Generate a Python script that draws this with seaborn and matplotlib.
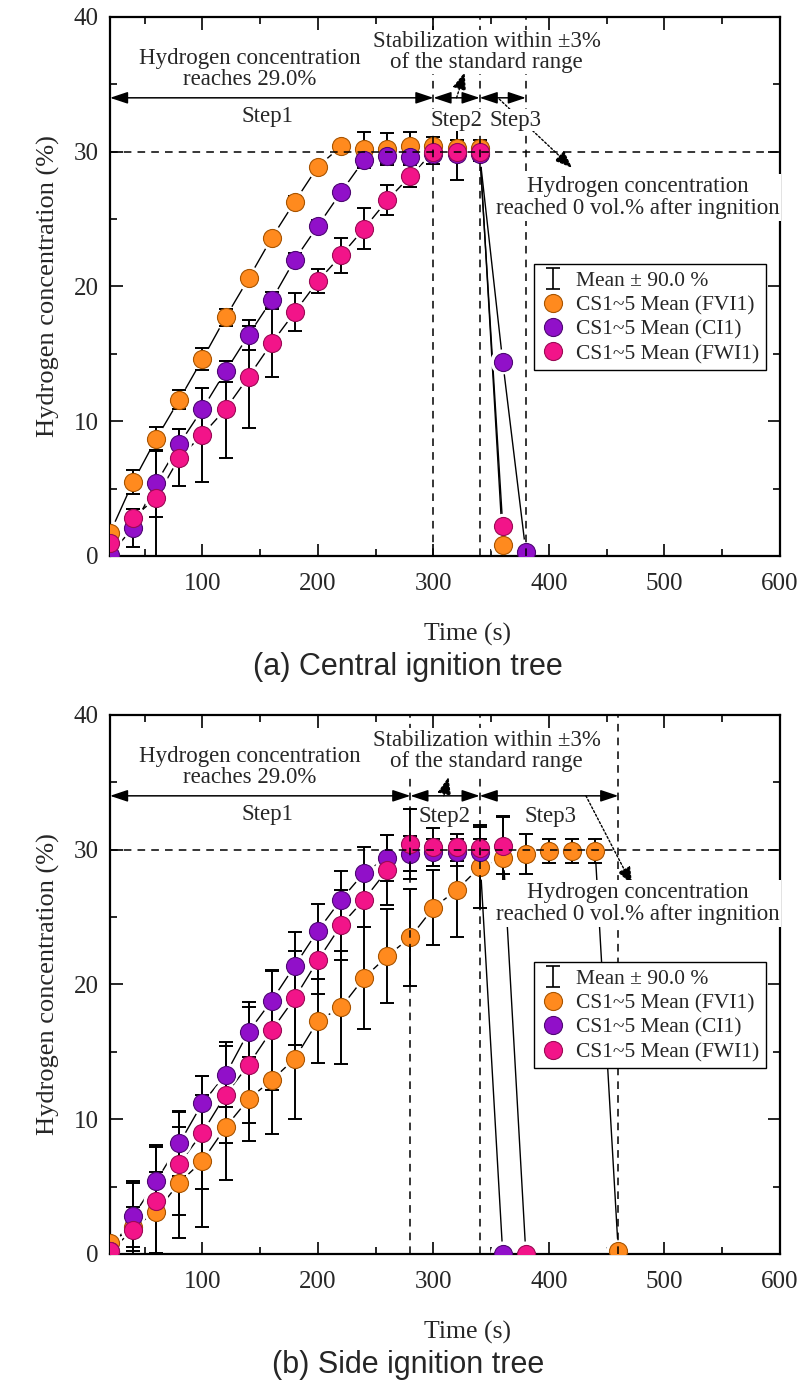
import numpy as np
import pandas as pd
import matplotlib.pyplot as plt
import seaborn as sns
from matplotlib.ticker import MultipleLocator
from matplotlib.lines import Line2D

# ---- data ----
series_names = ['CS1~5 Mean (FVI1)', 'CS1~5 Mean (CI1)', 'CS1~5 Mean (FWI1)']
face_colors = ['#FF8A1E', '#9110C9', '#F21489']
edge_colors = ['#A85400', '#4E0873', '#9A0A55']

# (a) Central ignition tree
t_a_fvi1 = [20, 40, 60, 80, 100, 120, 140, 160, 180, 200, 220, 240, 260, 280, 300, 320, 340, 360]
h_a_fvi1 = [1.7, 5.5, 8.7, 11.6, 14.6, 17.7, 20.6, 23.6, 26.3, 28.9, 30.4, 30.2, 30.2, 30.4, 30.4, 30.3, 30.3, 0.8]
e_a_fvi1 = [0.3, 0.9, 0.9, 0.7, 0.8, 0.6, 0.3, 0.3, 0.4, 0.3, 0.3, 1.3, 1.2, 1.1, 0.7, 0.6, 0.6, 0.0]

t_a_ci1 = [20, 40, 60, 80, 100, 120, 140, 160, 180, 200, 220, 240, 260, 280, 300, 320, 340, 360, 380]
h_a_ci1 = [0.1, 2.1, 5.4, 8.3, 10.9, 13.7, 16.4, 19.0, 22.0, 24.5, 27.0, 29.4, 29.7, 29.6, 29.8, 29.8, 29.8, 14.4, 0.3]
e_a_ci1 = [0.3, 1.4, 2.5, 1.1, 1.6, 0.8, 1.1, 0.6, 0.5, 0.4, 0.4, 0.6, 0.5, 0.5, 0.7, 1.9, 0.5, 0.0, 0.0]

t_a_fwi1 = [20, 40, 60, 80, 100, 120, 140, 160, 180, 200, 220, 240, 260, 280, 300, 320, 340, 360]
h_a_fwi1 = [1.0, 2.85, 4.3, 7.3, 9.0, 10.9, 13.3, 15.8, 18.1, 20.4, 22.3, 24.3, 26.4, 28.2, 30.0, 30.0, 30.0, 2.2]
e_a_fwi1 = [0.3, 0.6, 4.4, 2.1, 3.5, 3.6, 3.8, 2.5, 1.4, 0.9, 1.3, 1.5, 1.1, 0.8, 0.6, 0.6, 0.6, 0.0]

# (b) Side ignition tree
t_b_fvi1 = [20, 40, 60, 80, 100, 120, 140, 160, 180, 200, 220, 240, 260, 280, 300, 320, 340, 360, 380, 400,
            420, 440, 460]
h_b_fvi1 = [0.8, 2.0, 3.1, 5.3, 6.9, 9.4, 11.5, 12.9, 14.5, 17.3, 18.3, 20.5, 22.1, 23.5, 25.7, 27.0, 28.7,
            29.4, 29.7, 29.9, 29.9, 29.9, 0.2]
e_b_fvi1 = [0.3, 1.5, 3.0, 4.1, 4.9, 3.9, 3.1, 4.0, 4.5, 3.1, 4.2, 3.8, 3.5, 3.6, 2.8, 3.5, 3.0, 3.1, 1.5,
            0.9, 0.9, 0.9, 0.0]

t_b_ci1 = [20, 40, 60, 80, 100, 120, 140, 160, 180, 200, 220, 240, 260, 280, 300, 320, 340, 360]
h_b_ci1 = [0.2, 2.8, 5.4, 8.2, 11.2, 13.3, 16.5, 18.8, 21.4, 24.0, 26.3, 28.3, 29.4, 29.7, 29.8, 29.8, 29.8, 0.0]
e_b_ci1 = [0.3, 2.6, 2.7, 2.4, 2.0, 2.4, 2.2, 2.3, 2.5, 2.0, 2.1, 1.9, 1.7, 1.3, 1.0, 1.0, 1.0, 0.0]

t_b_fwi1 = [20, 40, 60, 80, 100, 120, 140, 160, 180, 200, 220, 240, 260, 280, 300, 320, 340, 360, 380]
h_b_fwi1 = [0.2, 1.8, 3.95, 6.7, 9.0, 11.8, 14.05, 16.6, 19.0, 21.8, 24.4, 26.3, 28.5, 30.4, 30.2, 30.2,
            30.1, 30.3, 0.0]
e_b_fwi1 = [0.3, 3.5, 4.0, 3.8, 4.2, 3.6, 4.3, 4.4, 3.5, 2.5, 2.6, 2.0, 2.6, 2.6, 1.4, 1.0, 1.7, 2.1, 0.0]

# step boundaries (s)
steps_a = [20, 300, 340, 380]
steps_b = [20, 280, 340, 460]

sns.set_theme(style='ticks')
plt.rcParams['font.family'] = ['Liberation Serif', 'DejaVu Serif']
plt.rcParams['mathtext.fontset'] = 'stix'


def make_frame(parts):
    rows = []
    for name, t, h, e in parts:
        for ti, hi, ei in zip(t, h, e):
            rows.append({'series': name, 't': ti, 'h': hi, 'err': ei})
    return pd.DataFrame(rows)


df_a = make_frame([(series_names[0], t_a_fvi1, h_a_fvi1, e_a_fvi1),
                   (series_names[1], t_a_ci1, h_a_ci1, e_a_ci1),
                   (series_names[2], t_a_fwi1, h_a_fwi1, e_a_fwi1)])
df_b = make_frame([(series_names[0], t_b_fvi1, h_b_fvi1, e_b_fvi1),
                   (series_names[1], t_b_ci1, h_b_ci1, e_b_ci1),
                   (series_names[2], t_b_fwi1, h_b_fwi1, e_b_fwi1)])


def draw_panel(ax, df, steps, step_lbl, dot1, dot2, txt_stab_y, txt_ign):
    ms = 13
    # connecting lines
    sns.lineplot(data=df, x='t', y='h', units='series', estimator=None, sort=False,
                 color='black', lw=1.0, ax=ax, zorder=2, legend=False)
    # white halo -> gap between line and symbol
    sns.scatterplot(data=df, x='t', y='h', s=(ms + 5) ** 2, color='white',
                    edgecolor='none', linewidth=0, ax=ax, zorder=2.5, legend=False)
    # error bars
    for name in series_names:
        d = df[df['series'] == name]
        ax.errorbar(d['t'], d['h'], yerr=d['err'], fmt='none', ecolor='black',
                    elinewidth=1.4, capsize=5, capthick=1.4, zorder=3)
    # markers
    for name, fc, ec in zip(series_names, face_colors, edge_colors):
        d = df[df['series'] == name]
        sns.scatterplot(x=d['t'], y=d['h'], s=ms ** 2, color=fc, edgecolor=ec,
                        linewidth=0.8, ax=ax, zorder=4, legend=False)

    # reference lines
    dash = (0, (5, 4))
    ax.axhline(30, color='black', lw=1.1, ls=dash, zorder=5)
    for x in steps[1:]:
        ax.axvline(x, color='black', lw=1.1, ls=dash, zorder=5)

    # step arrows
    for x0, x1 in zip(steps[:-1], steps[1:]):
        ax.annotate('', xy=(x1, 34), xytext=(x0, 34),
                    arrowprops=dict(arrowstyle='<|-|>,head_length=0.9,head_width=0.3',
                                    color='black', lw=1.1, shrinkA=0, shrinkB=0),
                    zorder=6)
    for (x, y), lbl in zip(step_lbl, ['Step1', 'Step2', 'Step3']):
        ax.text(x, y, lbl, ha='center', va='center', fontsize=16.5, zorder=7,
                bbox=dict(facecolor='white', edgecolor='none', pad=0.5))

    # dotted pointers
    for (x0, y0), (x1, y1) in [dot1, dot2]:
        ax.annotate('', xy=(x1, y1), xytext=(x0, y0),
                    arrowprops=dict(arrowstyle='-|>,head_length=0.9,head_width=0.35',
                                    color='black', lw=1.0, ls=(0, (1.5, 1.5)),
                                    shrinkA=0, shrinkB=0), zorder=6)

    box = dict(facecolor='white', edgecolor='none', pad=1)
    ax.text(141, 36.15, 'Hydrogen concentration\nreaches 29.0%', ha='center', va='center',
            fontsize=16.5, linespacing=1.0, zorder=7, bbox=box)
    ax.text(346, txt_stab_y, 'Stabilization within \u00b13%\nof the standard range', ha='center',
            va='center', fontsize=16.5, linespacing=1.0, zorder=7, bbox=box)
    ax.text(477, txt_ign, 'Hydrogen concentration\nreached 0 vol.% after ingnition', ha='center',
            va='center', fontsize=16.5, linespacing=1.1, zorder=7, bbox=box)

    # axes styling
    ax.set_xlim(20, 600)
    ax.set_ylim(0, 40)
    ax.xaxis.set_major_locator(MultipleLocator(100))
    ax.xaxis.set_minor_locator(MultipleLocator(50))
    ax.yaxis.set_major_locator(MultipleLocator(10))
    ax.yaxis.set_minor_locator(MultipleLocator(5))
    ax.tick_params(which='both', direction='in', top=True, right=True, width=1.4)
    ax.tick_params(which='major', length=9, labelsize=18)
    ax.tick_params(which='minor', length=5)
    ax.tick_params(axis='x', pad=12)
    ax.tick_params(axis='y', pad=8)
    for sp in ax.spines.values():
        sp.set_linewidth(1.6)
        sp.set_color('black')
    ax.set_xlabel('Time (s)', fontsize=18.5)
    ax.xaxis.set_label_coords(0.534, -0.125)
    ax.set_ylabel('Hydrogen concentration (%)', fontsize=19, labelpad=10)

    # legend
    eb = ax.errorbar([np.nan], [np.nan], yerr=[1], fmt='none', ecolor='black',
                     elinewidth=1.2, capsize=5, capthick=1.2)
    handles = [eb] + [Line2D([], [], ls='none', marker='o', markersize=13, markerfacecolor=fc,
                             markeredgecolor=ec, markeredgewidth=0.8)
                      for fc, ec in zip(face_colors, edge_colors)]
    labels = ['Mean \u00b1 90.0 %'] + series_names
    leg = ax.legend(handles, labels, loc='upper left', bbox_to_anchor=(0.633, 0.541),
                    fontsize=15.5, frameon=True, fancybox=False, framealpha=1,
                    edgecolor='black', borderpad=0.3, labelspacing=0.2,
                    handlelength=1.2, handletextpad=0.45, borderaxespad=0)
    leg.get_frame().set_linewidth(1.0)
    leg.set_zorder(10)


fig, axes = plt.subplots(2, 1, figsize=(8, 13.91), dpi=100)
fig.subplots_adjust(left=0.1375, right=0.975, top=0.9878, bottom=0.0985, hspace=0.295)

draw_panel(axes[0], df_a, steps_a,
           step_lbl=[(156, 32.6), (320, 32.35), (371, 32.35)],
           dot1=((320, 34.0), (327, 35.9)),
           dot2=((357, 33.9), (420, 28.8)),
           txt_stab_y=37.4, txt_ign=26.6)
draw_panel(axes[1], df_b, steps_b,
           step_lbl=[(156, 32.6), (310, 32.5), (401, 32.5)],
           dot1=((309, 34.0), (313, 35.4)),
           dot2=((432, 34.0), (472, 27.4)),
           txt_stab_y=37.35, txt_ign=26.0)

fig.text(0.51, 1 - 667 / 1391, '(a) Central ignition tree', ha='center', va='center',
         fontsize=22, family=['Liberation Sans', 'DejaVu Sans'])
fig.text(0.51, 1 - 1365 / 1391, '(b) Side ignition tree', ha='center', va='center',
         fontsize=22, family=['Liberation Sans', 'DejaVu Sans'])

fig.savefig('out.png', dpi=100)
